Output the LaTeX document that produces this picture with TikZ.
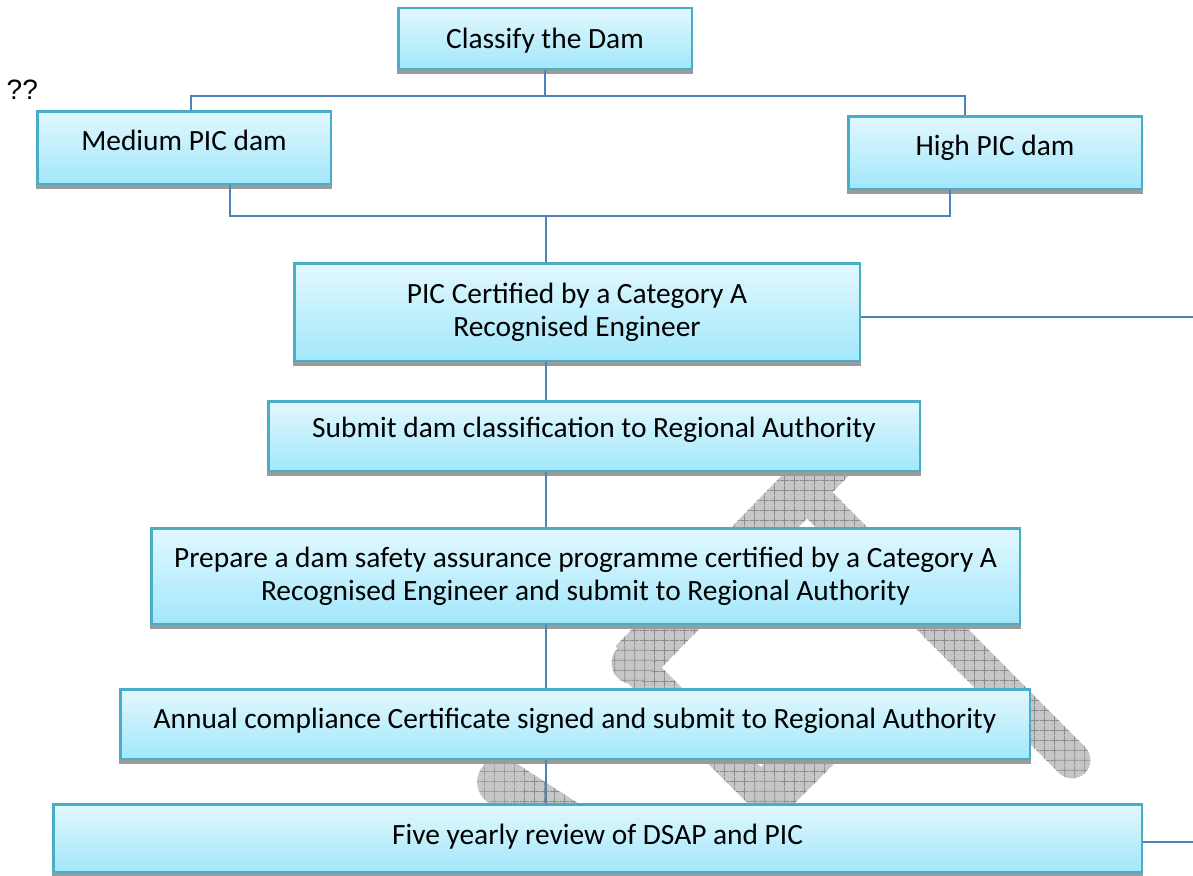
\documentclass[tikz,border=0pt]{standalone}
\usepackage{fontspec}
\setmainfont{Carlito}
\newfontfamily\arialfont{Liberation Sans}
\usetikzlibrary{calc,patterns}
\pgfdeclarepatternformonly{bandgrid}{\pgfqpoint{0pt}{0pt}}{\pgfqpoint{10pt}{10pt}}{\pgfqpoint{10pt}{10pt}}{%
  \pgfsetlinewidth{0.8pt}%
  \pgfpathmoveto{\pgfqpoint{0pt}{5pt}}\pgfpathlineto{\pgfqpoint{10pt}{5pt}}%
  \pgfpathmoveto{\pgfqpoint{5pt}{0pt}}\pgfpathlineto{\pgfqpoint{5pt}{10pt}}%
  \pgfusepath{stroke}}
\definecolor{boxborder}{RGB}{75,172,198}
\definecolor{boxtop}{RGB}{226,248,254}
\definecolor{boxbot}{RGB}{162,231,251}
\definecolor{connblue}{RGB}{79,129,189}
\definecolor{bandfill}{RGB}{198,198,198}
\definecolor{bandgridc}{RGB}{140,140,140}
\definecolor{stripc}{RGB}{155,155,155}
\tikzset{
  box/.style={draw=boxborder, line width=2.5pt, top color=boxtop, bottom color=boxbot,
    inner sep=0pt, align=center, font=\fontsize{29.4}{33}\selectfont},
  conn/.style={draw=connblue, line width=1.7pt},
  band/.style={fill=bandfill, postaction={pattern=bandgrid, pattern color=bandgridc}},
  strip/.style={fill=stripc}
}
\newcommand\bandseg[3]{\path[band] ($(#1)!#3!90:(#2)$) -- ($(#1)!#3!-90:(#2)$) -- ($(#2)!#3!90:(#1)$) -- ($(#2)!#3!-90:(#1)$) -- cycle;}
\newcommand\bandjoint[2]{\path[band] (#1) circle[radius=#2];}
\begin{document}
\begin{tikzpicture}[x=1pt,y=-1pt]
\useasboundingbox (0,0) rectangle (1193,875);
% decorative hatched band behind the boxes
\coordinate (A1) at (850,440);
\coordinate (A2) at (632.5,663);
\coordinate (V) at (766,797);
\coordinate (C2) at (838,725);
\coordinate (D1) at (803,488.5);
\coordinate (D2) at (1072,760);
\coordinate (P2) at (501,782);
\coordinate (P3) at (600,846);
\bandseg{A1}{A2}{24pt}
\bandseg{A2}{V}{17.5pt}
\bandseg{V}{C2}{24.7pt}
\bandseg{D1}{D2}{18.4pt}
\bandjoint{A2}{21pt}
\bandjoint{V}{20pt}
\bandjoint{D2}{18.4pt}
\bandseg{P2}{P3}{24pt}
\bandjoint{P2}{24pt}
% boxes
\node[box, minimum width=293.5pt, minimum height=60.5pt, text height=19.6pt, text depth=0pt] (classify) at (545,38.5) {Classify the Dam};
\node[box, minimum width=293.5pt, minimum height=72.5pt, text height=5.6pt, text depth=0pt] (medium) at (184,147.5) {Medium PIC dam};
\node[box, minimum width=293.5pt, minimum height=72.5pt, text height=5.6pt, text depth=0pt] (high) at (995,152.5) {High PIC dam};
\node[box, minimum width=565.5pt, minimum height=97.5pt] (pic) at (577,312) {PIC Certified by a Category A\\Recognised Engineer};
\node[box, minimum width=651.5pt, minimum height=69.5pt, text height=2.6pt, text depth=0pt] (submit) at (594,436) {Submit dam classification to Regional Authority};
\node[box, minimum width=868.5pt, minimum height=95.5pt] (prepare) at (585.5,576) {Prepare a dam safety assurance programme certified by a Category A\\Recognised Engineer and submit to Regional Authority};
\node[box, minimum width=909.5pt, minimum height=69.5pt, text height=8.6pt, text depth=0pt] (annual) at (575,724) {Annual compliance Certificate signed and submit to Regional Authority};
\node[box, minimum width=1088.5pt, minimum height=67.5pt, text height=12.6pt, text depth=0pt] (five) at (597.5,838) {Five yearly review of DSAP and PIC};
% shadow strips under the boxes
\foreach \b in {classify,medium,high,pic,submit,prepare,annual,five}
  \path[strip] (\b.south west) rectangle ([yshift=-4pt]\b.south east);
% free text
\node[anchor=base west, inner sep=0pt, font=\arialfont\fontsize{28}{30}\selectfont] (qq) at (6.5,99) {??};
% connectors
\draw[conn] (classify.south) -- ++(0,26) coordinate (topbus);
\draw[conn] ([xshift=7pt]medium.north) |- (topbus) -| ([xshift=-30pt]high.north);
\coordinate (midbus) at (546,216);
\draw[conn] ([xshift=46pt]medium.south) |- (midbus);
\draw[conn] ([xshift=-45pt]high.south) |- (midbus);
\draw[conn] (midbus) -- (midbus |- pic.north);
\coordinate (spine) at (546,0);
\draw[conn] (spine |- pic.south) -- (spine |- submit.north);
\draw[conn] (spine |- submit.south) -- (spine |- prepare.north);
\draw[conn] (spine |- prepare.south) -- (spine |- annual.north);
\draw[conn] (spine |- annual.south) -- (spine |- five.north);
\coordinate (picout) at (1194,317);
\draw[conn] (pic.east |- picout) -- (picout);
\coordinate (fiveout) at (1194,842);
\draw[conn] (five.east |- fiveout) -- (fiveout);
\end{tikzpicture}
\end{document}
